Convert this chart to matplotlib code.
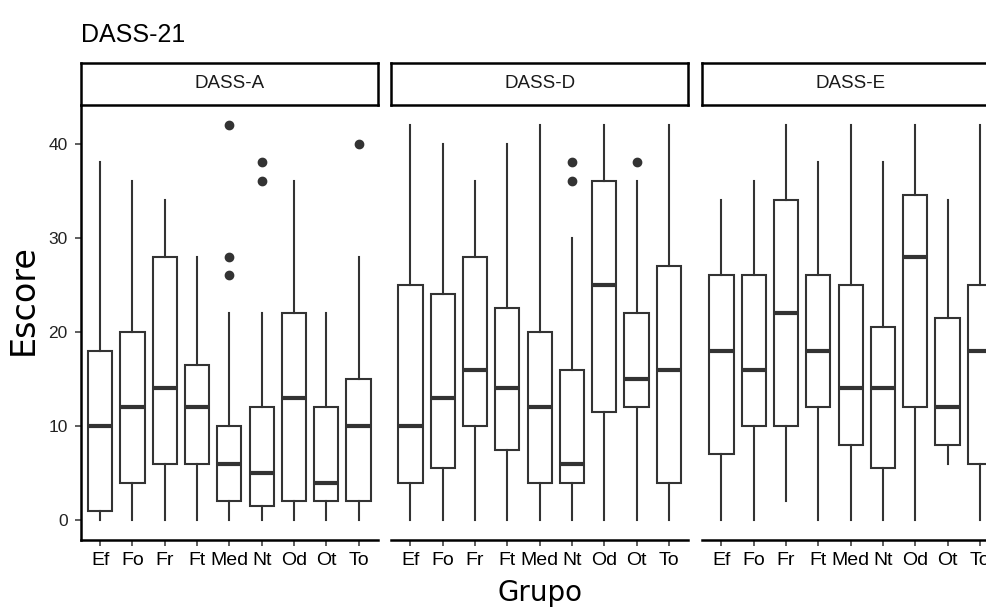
import matplotlib
matplotlib.use("Agg")
import matplotlib.pyplot as plt

# Grupo categories and DASS-21 subscale panels
grupos = ["Ef", "Fo", "Fr", "Ft", "Med", "Nt", "Od", "Ot", "To"]
paineis = ["DASS-A", "DASS-D", "DASS-E"]

# box stats (lower whisker, Q1, median, Q3, upper whisker)
a_lo = [0, 0, 0, 0, 0, 0, 0, 0, 0]
a_q1 = [1, 4, 6, 6, 2, 1.5, 2, 2, 2]
a_med = [10, 12, 14, 12, 6, 5, 13, 4, 10]
a_q3 = [18, 20, 28, 16.5, 10, 12, 22, 12, 15]
a_hi = [38, 36, 34, 28, 22, 22, 36, 22, 28]
a_out = [[], [], [], [], [42, 28, 26], [38, 36], [], [], [40]]

d_lo = [0, 0, 0, 0, 0, 0, 0, 0, 0]
d_q1 = [4, 5.5, 10, 7.5, 4, 4, 11.5, 12, 4]
d_med = [10, 13, 16, 14, 12, 6, 25, 15, 16]
d_q3 = [25, 24, 28, 22.5, 20, 16, 36, 22, 27]
d_hi = [42, 40, 36, 40, 42, 30, 42, 36, 42]
d_out = [[], [], [], [], [], [38, 36], [], [38], []]

e_lo = [0, 0, 2, 0, 0, 0, 0, 6, 0]
e_q1 = [7, 10, 10, 12, 8, 5.5, 12, 8, 6]
e_med = [18, 16, 22, 18, 14, 14, 28, 12, 18]
e_q3 = [26, 26, 34, 26, 25, 20.5, 34.5, 21.5, 25]
e_hi = [34, 36, 42, 38, 42, 38, 42, 34, 42]
e_out = [[], [], [], [], [], [], [], [], []]

dados = [
    (a_lo, a_q1, a_med, a_q3, a_hi, a_out),
    (d_lo, d_q1, d_med, d_q3, d_hi, d_out),
    (e_lo, e_q1, e_med, e_q3, e_hi, e_out),
]

W, H = 986, 615
fig = plt.figure(figsize=(W / 100, H / 100), dpi=100)

fonte = "Liberation Sans"
cinza = "#333333"

lefts = [80.7, 391, 702]
pw = 297.3
bottom = 1 - 540 / H
top = 1 - 105 / H
strip_top = 1 - 63 / H

for i, (nome, (lo, q1, med, q3, hi, out)) in enumerate(zip(paineis, dados)):
    ax = fig.add_axes([lefts[i] / W, bottom, pw / W, top - bottom])
    stats = []
    for k, g in enumerate(grupos):
        stats.append(dict(label=g, whislo=lo[k], q1=q1[k], med=med[k],
                          q3=q3[k], whishi=hi[k], fliers=out[k]))
    ax.bxp(stats, positions=range(1, len(grupos) + 1), widths=0.75,
           showcaps=False, patch_artist=True,
           boxprops=dict(facecolor="white", edgecolor=cinza, linewidth=1.5),
           whiskerprops=dict(color=cinza, linewidth=1.5),
           medianprops=dict(color=cinza, linewidth=3.0, solid_capstyle="butt"),
           flierprops=dict(marker="o", markerfacecolor=cinza,
                           markeredgecolor=cinza, markersize=6))
    ax.set_xlim(0.4, 9.6)
    ax.set_ylim(-2.1, 44.1)
    ax.set_xticks(range(1, len(grupos) + 1))
    ax.set_xticklabels(grupos, fontsize=14, family=fonte, color="black")
    ax.tick_params(axis="x", length=4.5, width=1.1, color=cinza, pad=4)
    for s in ["top", "right"]:
        ax.spines[s].set_visible(False)
    ax.spines["bottom"].set_linewidth(1.8)
    ax.spines["bottom"].set_color("black")
    if i == 0:
        ax.set_yticks([0, 10, 20, 30, 40])
        ax.set_yticklabels(["0", "10", "20", "30", "40"], fontsize=12.5,
                           family=fonte, color="#222222")
        ax.tick_params(axis="y", length=4.5, width=1.1, color=cinza, pad=5)
        ax.spines["left"].set_linewidth(1.8)
        ax.spines["left"].set_color("black")
    else:
        ax.spines["left"].set_visible(False)
        ax.set_yticks([])

    # facet strip
    st = fig.add_axes([lefts[i] / W, top, pw / W, strip_top - top])
    st.set_xticks([])
    st.set_yticks([])
    for s in st.spines.values():
        s.set_linewidth(1.8)
        s.set_color("black")
    st.text(0.5, 0.5, nome, ha="center", va="center", fontsize=13.5,
            family=fonte, color="#1a1a1a", transform=st.transAxes)

fig.text(81 / W, 1 - 42 / H, "DASS-21", ha="left", va="baseline",
         fontsize=18, family=fonte)
fig.text(23 / W, 1 - 300 / H, "Escore", rotation=90, ha="center",
         va="center", fontsize=24, family="DejaVu Sans")
fig.text(540 / W, 1 - 601 / H, "Grupo", ha="center", va="baseline",
         fontsize=20, family="DejaVu Sans")

fig.savefig("out.png", dpi=100)
